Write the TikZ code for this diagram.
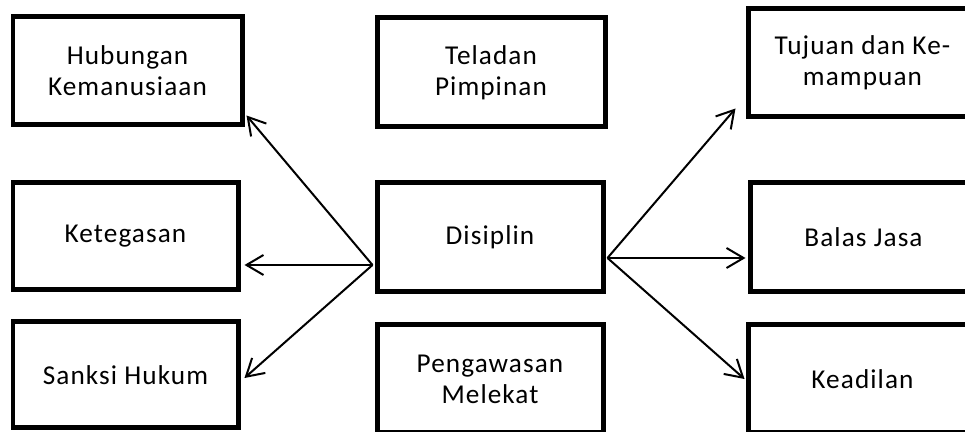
\documentclass[tikz,border=0pt]{standalone}
\usepackage{fontspec}
\setmainfont{Carlito}[LetterSpace=4]
\usetikzlibrary{arrows.meta}
\begin{document}
\begin{tikzpicture}[x=0.02cm, y=-0.02cm,
  factor/.style={draw, line width=0.1cm, rectangle, align=center,
    font=\fontsize{15.5}{17.5}\selectfont, inner sep=0pt},
  link/.style={line width=0.04cm, -{Straight Barb[length=0.34cm, width=0.4cm, line width=0.04cm]}}]
  \useasboundingbox (0,0) rectangle (965,432);
  \clip (0,0) rectangle (965,432);

  % left column
  \node[factor, minimum width=229*0.02cm, minimum height=108*0.02cm] (hub) at (127.5,71) {Hubungan\\Kemanusiaan};
  \node[factor, minimum width=225*0.02cm, minimum height=107*0.02cm] (keg) at (125.5,236.5) {Ketegasan};
  \node[factor, minimum width=225*0.02cm, minimum height=106*0.02cm] (san) at (125.5,375) {Sanksi Hukum};

  % middle column
  \node[factor, minimum width=228*0.02cm, minimum height=109*0.02cm] (tel) at (491,72.5) {Teladan\\Pimpinan};
  \node[factor, minimum width=226*0.02cm, minimum height=109*0.02cm] (dis) at (490,237.5) {Disiplin};
  \node[factor, minimum width=226*0.02cm, minimum height=108*0.02cm] (pen) at (490,379) {Pengawasan\\Melekat};

  % right column
  \node[factor, minimum width=229*0.02cm, minimum height=108*0.02cm] (tuj) at (862.5,63) {Tujuan dan Ke-\\mampuan};
  \node[factor, minimum width=227*0.02cm, minimum height=109*0.02cm] (bal) at (863.5,237.5) {Balas Jasa};
  \node[factor, minimum width=229*0.02cm, minimum height=108*0.02cm] (kea) at (862.5,379) {Keadilan};

  % fan-out points on the sides of the central box
  \coordinate (dl) at ([xshift=-0.04cm, yshift=-0.55cm]dis.west);
  \coordinate (dr) at ([xshift=0.04cm, yshift=-0.41cm]dis.east);

  \draw[link] (dl) -- ([xshift=0.04cm, yshift=0.24cm]hub.south east);
  \draw[link] (dl) -- ([xshift=0.08cm]dl -| keg.east);
  \draw[link] (dl) -- ([xshift=0.08cm, yshift=-0.06cm]san.east);

  \draw[link] (dr) -- ([xshift=-0.2cm, yshift=0.22cm]tuj.south west);
  \draw[link] (dr) -- ([xshift=-0.04cm]dr -| bal.west);
  \draw[link] (dr) -- ([xshift=-0.02cm]kea.west);
\end{tikzpicture}
\end{document}
